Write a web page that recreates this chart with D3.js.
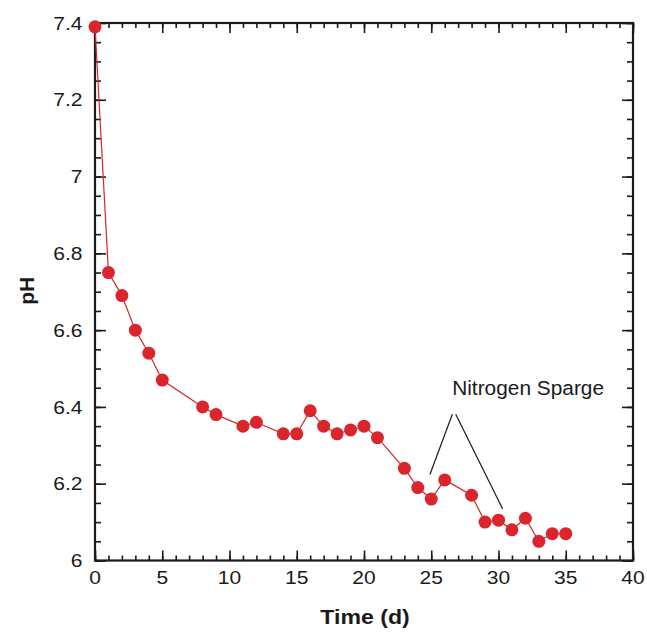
<!DOCTYPE html>
<html><head><meta charset="utf-8">
<script src="https://cdn.jsdelivr.net/npm/d3@7"></script>
<style>body{margin:0;background:#fff}svg{display:block}</style>
</head><body>
<script>
const days = [0,1,2,3,4,5,8,9,11,12,14,15,16,17,18,19,20,21,23,24,25,26,28,29,30,31,32,33,34,35];
const phValues = [7.39,6.75,6.69,6.60,6.54,6.47,6.40,6.38,6.35,6.36,6.33,6.33,6.39,6.35,6.33,6.34,6.35,6.32,6.24,6.19,6.16,6.21,6.17,6.10,6.105,6.08,6.11,6.05,6.07,6.07];
const xTicks = [0,5,10,15,20,25,30,35,40];
const yTicks = [6,6.2,6.4,6.6,6.8,7,7.2,7.4];
const yTickLabels = ["6","6.2","6.4","6.6","6.8","7","7.2","7.4"];
const annotationText = "Nitrogen Sparge";
const annotationLines = [[[26.57,6.381],[24.9,6.224]],[[26.82,6.381],[30.31,6.134]]];
const annotationAnchor = [32.2,6.432];

const W=647,H=634;
const m={l:95,r:14,t:23,b:73.5};
const svg=d3.select("body").append("svg").attr("width",W).attr("height",H);
const x=d3.scaleLinear().domain([0,40]).range([m.l,W-m.r]);
const y=d3.scaleLinear().domain([6,7.4]).range([H-m.b,m.t]);
const font="'Liberation Sans', Arial, Helvetica, sans-serif";
const ink="#1a1a1a";

const g=svg.append("g");
const xMinor=d3.range(0,41,1), yMinor=d3.range(0,29).map(i=>6+i*0.05);
function styleAxis(sel){sel.select(".domain").remove();sel.selectAll("line").attr("stroke",ink).attr("stroke-width",1.6);sel.selectAll("text").remove();}
// minor ticks
g.append("g").attr("transform",`translate(0,${y(6)})`).call(d3.axisTop(x).tickValues(xMinor).tickSize(5)).call(styleAxis);
g.append("g").attr("transform",`translate(0,${y(7.4)})`).call(d3.axisBottom(x).tickValues(xMinor).tickSize(5)).call(styleAxis);
g.append("g").attr("transform",`translate(${x(0)},0)`).call(d3.axisRight(y).tickValues(yMinor).tickSize(6)).call(styleAxis);
g.append("g").attr("transform",`translate(${x(40)},0)`).call(d3.axisLeft(y).tickValues(yMinor).tickSize(6)).call(styleAxis);
// major ticks
g.append("g").attr("transform",`translate(0,${y(6)})`).call(d3.axisTop(x).tickValues(xTicks).tickSize(10)).call(styleAxis);
g.append("g").attr("transform",`translate(0,${y(7.4)})`).call(d3.axisBottom(x).tickValues(xTicks).tickSize(10)).call(styleAxis);
g.append("g").attr("transform",`translate(${x(0)},0)`).call(d3.axisRight(y).tickValues(yTicks).tickSize(11)).call(styleAxis);
g.append("g").attr("transform",`translate(${x(40)},0)`).call(d3.axisLeft(y).tickValues(yTicks).tickSize(11)).call(styleAxis);

// frame
svg.append("rect").attr("x",x(0)).attr("y",y(7.4)).attr("width",x(40)-x(0)).attr("height",y(6)-y(7.4))
  .attr("fill","none").attr("stroke",ink).attr("stroke-width",2.2);

// tick labels (horizontally widened to match reference face)
svg.append("g").selectAll("text").data(xTicks).join("text")
  .attr("transform",d=>`translate(${x(d)},${y(6)+23}) scale(1.13,1)`).attr("text-anchor","middle")
  .attr("font-family",font).attr("font-size",18.6).attr("fill",ink).text(d=>d);
svg.append("g").selectAll("text").data(yTicks).join("text")
  .attr("transform",d=>`translate(${x(0)-12.5},${y(d)+6.7}) scale(1.13,1)`).attr("text-anchor","end")
  .attr("font-family",font).attr("font-size",18.6).attr("fill",ink).text((d,i)=>yTickLabels[i]);

// axis titles
svg.append("text").attr("transform",`translate(${(x(0)+x(40))/2+1},623.5) scale(1.1,1)`).attr("text-anchor","middle")
  .attr("font-family",font).attr("font-weight","bold").attr("font-size",21).attr("fill",ink).text("Time (d)");
svg.append("text").attr("transform",`translate(33.5,${(y(6)+y(7.4))/2-1}) rotate(-90)`).attr("text-anchor","middle")
  .attr("font-family",font).attr("font-weight","bold").attr("font-size",21).attr("fill",ink).text("pH");

// data
const red="#d9252b";
const data=days.map((d,i)=>[d,phValues[i]]);
svg.append("path").datum(data).attr("fill","none").attr("stroke",red).attr("stroke-width",1.2)
  .attr("d",d3.line().x(d=>x(d[0])).y(d=>y(d[1])));
svg.append("g").selectAll("circle").data(data).join("circle")
  .attr("cx",d=>x(d[0])).attr("cy",d=>y(d[1])).attr("r",6.5).attr("fill",red);

// annotation
svg.append("g").selectAll("line").data(annotationLines).join("line")
  .attr("x1",d=>x(d[0][0])).attr("y1",d=>y(d[0][1])).attr("x2",d=>x(d[1][0])).attr("y2",d=>y(d[1][1]))
  .attr("stroke",ink).attr("stroke-width",1.2);
svg.append("text").attr("transform",`translate(${x(annotationAnchor[0])},${y(annotationAnchor[1])}) scale(1.07,1)`).attr("text-anchor","middle")
  .attr("font-family",font).attr("font-size",19.5).attr("fill",ink).text(annotationText);
</script>
</body></html>
